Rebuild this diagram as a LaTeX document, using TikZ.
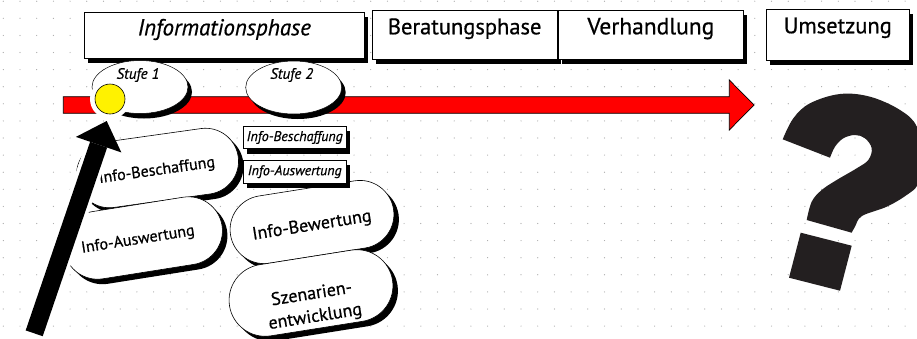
\documentclass[tikz,border=0pt]{standalone}
\usepackage{fontspec}
\setmainfont{PT Sans}[FakeBold=0.6]
\usetikzlibrary{shapes.geometric,shapes.misc,shadows,arrows.meta}
\definecolor{qcol}{HTML}{231F20}
\definecolor{dotcol}{HTML}{A8A8A8}
\begin{document}
\begin{tikzpicture}[x=1pt,y=-1pt,
  shad/.style={drop shadow={shadow xshift=4pt, shadow yshift=-5pt, fill=black, opacity=1}},
  hdr/.style={shad, draw=black, line width=0.6pt, fill=white, anchor=north west,
    inner xsep=0pt, inner ysep=4pt, text height=20pt, font=\fontsize{22.5}{26}\selectfont},
  ell/.style={ellipse, draw=black, line width=0.5pt, fill=white, inner sep=0pt,
    minimum width=96pt, minimum height=53pt, shad},
  stufetext/.style={font=\itshape\fontsize{15}{17}\selectfont},
  pill/.style={rounded rectangle, draw=black, line width=0.6pt, fill=white, inner sep=0pt,
    drop shadow={shadow xshift=5pt, shadow yshift=-5pt, fill=black, opacity=1}},
  pilltext/.style={align=center, inner sep=0pt},
  sbox/.style={shad, draw=black, line width=0.6pt, fill=white, inner sep=0pt,
    minimum width=102.7pt, minimum height=22.5pt, font=\itshape\fontsize{14}{16}\selectfont},
]
\useasboundingbox (0,0) rectangle (917,338);
\clip (0,0) rectangle (917,338);
\fill[white] (0,0) rectangle (917,338);
% dot grid
\foreach \i in {0,...,54} {
  \foreach \j in {0,...,19} {
    \fill[dotcol] ({3.3+16.7*\i},{1.2+17.1*\j}) circle (0.6);
  }
}
% red timeline arrow
\fill[red, draw=black, line width=0.7pt] (63.3,96.7) -- (729.3,96.7) -- (729.3,80) -- (754,105)
  -- (729.3,130) -- (729.3,113.3) -- (63.3,113.3) -- cycle;
% headers
\node[hdr, minimum width=280pt, text height=19pt, text depth=19pt] (h1) at (84,12)
  {\itshape\fontsize{23}{26}\selectfont Informationsphase};
\node[hdr, minimum width=184.7pt, text depth=21pt] (h2) at (372,10) {Beratungsphase};
\node[hdr, minimum width=185pt, text depth=21pt, font=\fontsize{23.5}{26}\selectfont] (h3) at (558,10) {Verhandlung};
\node[hdr, minimum width=143pt, text depth=23pt] (h4) at (766,9) {Umsetzung};
% stages
\node[ell] (e1) at (140,87) {};
\node[stufetext] (e1t) at (138,75) {Stufe 1};
\node[ell] (e2) at (293.7,87.5) {};
\node[stufetext] (e2t) at (291.7,75) {Stufe 2};
% yellow marker
\node[circle, draw=black, line width=0.6pt, fill=yellow, minimum size=30pt, inner sep=0pt,
  preaction={draw=white, line width=10pt}] (sun) at (110,99) {};
% pills
\node[pill, minimum width=163pt, minimum height=66pt, rotate=8] (p1) at (157.5,168) {};
\node[pilltext, rotate=8, font=\fontsize{16}{19}\selectfont] (p1t) at (157,171) {Info-Beschaffung};
\node[pill, minimum width=160pt, minimum height=68pt, rotate=9] (p2) at (143,238) {};
\node[pilltext, rotate=9, font=\fontsize{16}{19}\selectfont] (p2t) at (138,240) {Info-Auswertung};
\node[pill, minimum width=165pt, minimum height=68pt, rotate=9] (p3) at (312,222) {};
\node[pilltext, rotate=9, font=\fontsize{18}{21}\selectfont] (p3t) at (312,226) {Info-Bewertung};
\node[pill, minimum width=165pt, minimum height=72pt, rotate=9] (p4) at (311,293) {};
\node[pilltext, rotate=9, font=\fontsize{18}{23}\selectfont] (p4t) at (313.5,306) {Szenarien-\\entwicklung};
% black arrow
\coordinate (bs) at (34.2,333.3);
\coordinate (bt) at (106.7,121);
\draw[white, line width=25pt, -{Triangle[length=30pt,width=58pt,line width=0pt]}] (bs) -- (bt);
\draw[black, line width=18pt, -{Triangle[length=25pt,width=48pt,line width=0pt]}] (bs) -- (bt);
% small boxes
\node[sbox] (b1) at (294.7,137.5) {Info-Beschaffung};
\node[sbox] (b2) at (294.7,171.7) {Info-Auswertung};
% question mark
\fill[qcol] (782.7,139.3) -- (830,157.7)
  -- plot[smooth, tension=0.6] coordinates {(830,157.7) (835,146.7) (843.3,138.3) (855,135)
     (865,138.3) (871.7,148.3) (868.3,160) (856.7,168.3) (836.7,180) (821.7,190) (811.7,201.7) (806.7,220)}
  -- plot[smooth, tension=0.6] coordinates {(851.7,232.7) (855,226.7) (862,216) (886.7,206.7)
     (906.7,195) (918,184) (923,160) (917,127) (900,110) (870,96.7) (840,94) (810,103.3)
     (793.3,118.3) (782.7,139.3)}
  -- cycle;
\fill[qcol] (800.7,232.7) -- (851.7,245.7) -- (840,290.7) -- (789,277.7) -- cycle;
\end{tikzpicture}
\end{document}
